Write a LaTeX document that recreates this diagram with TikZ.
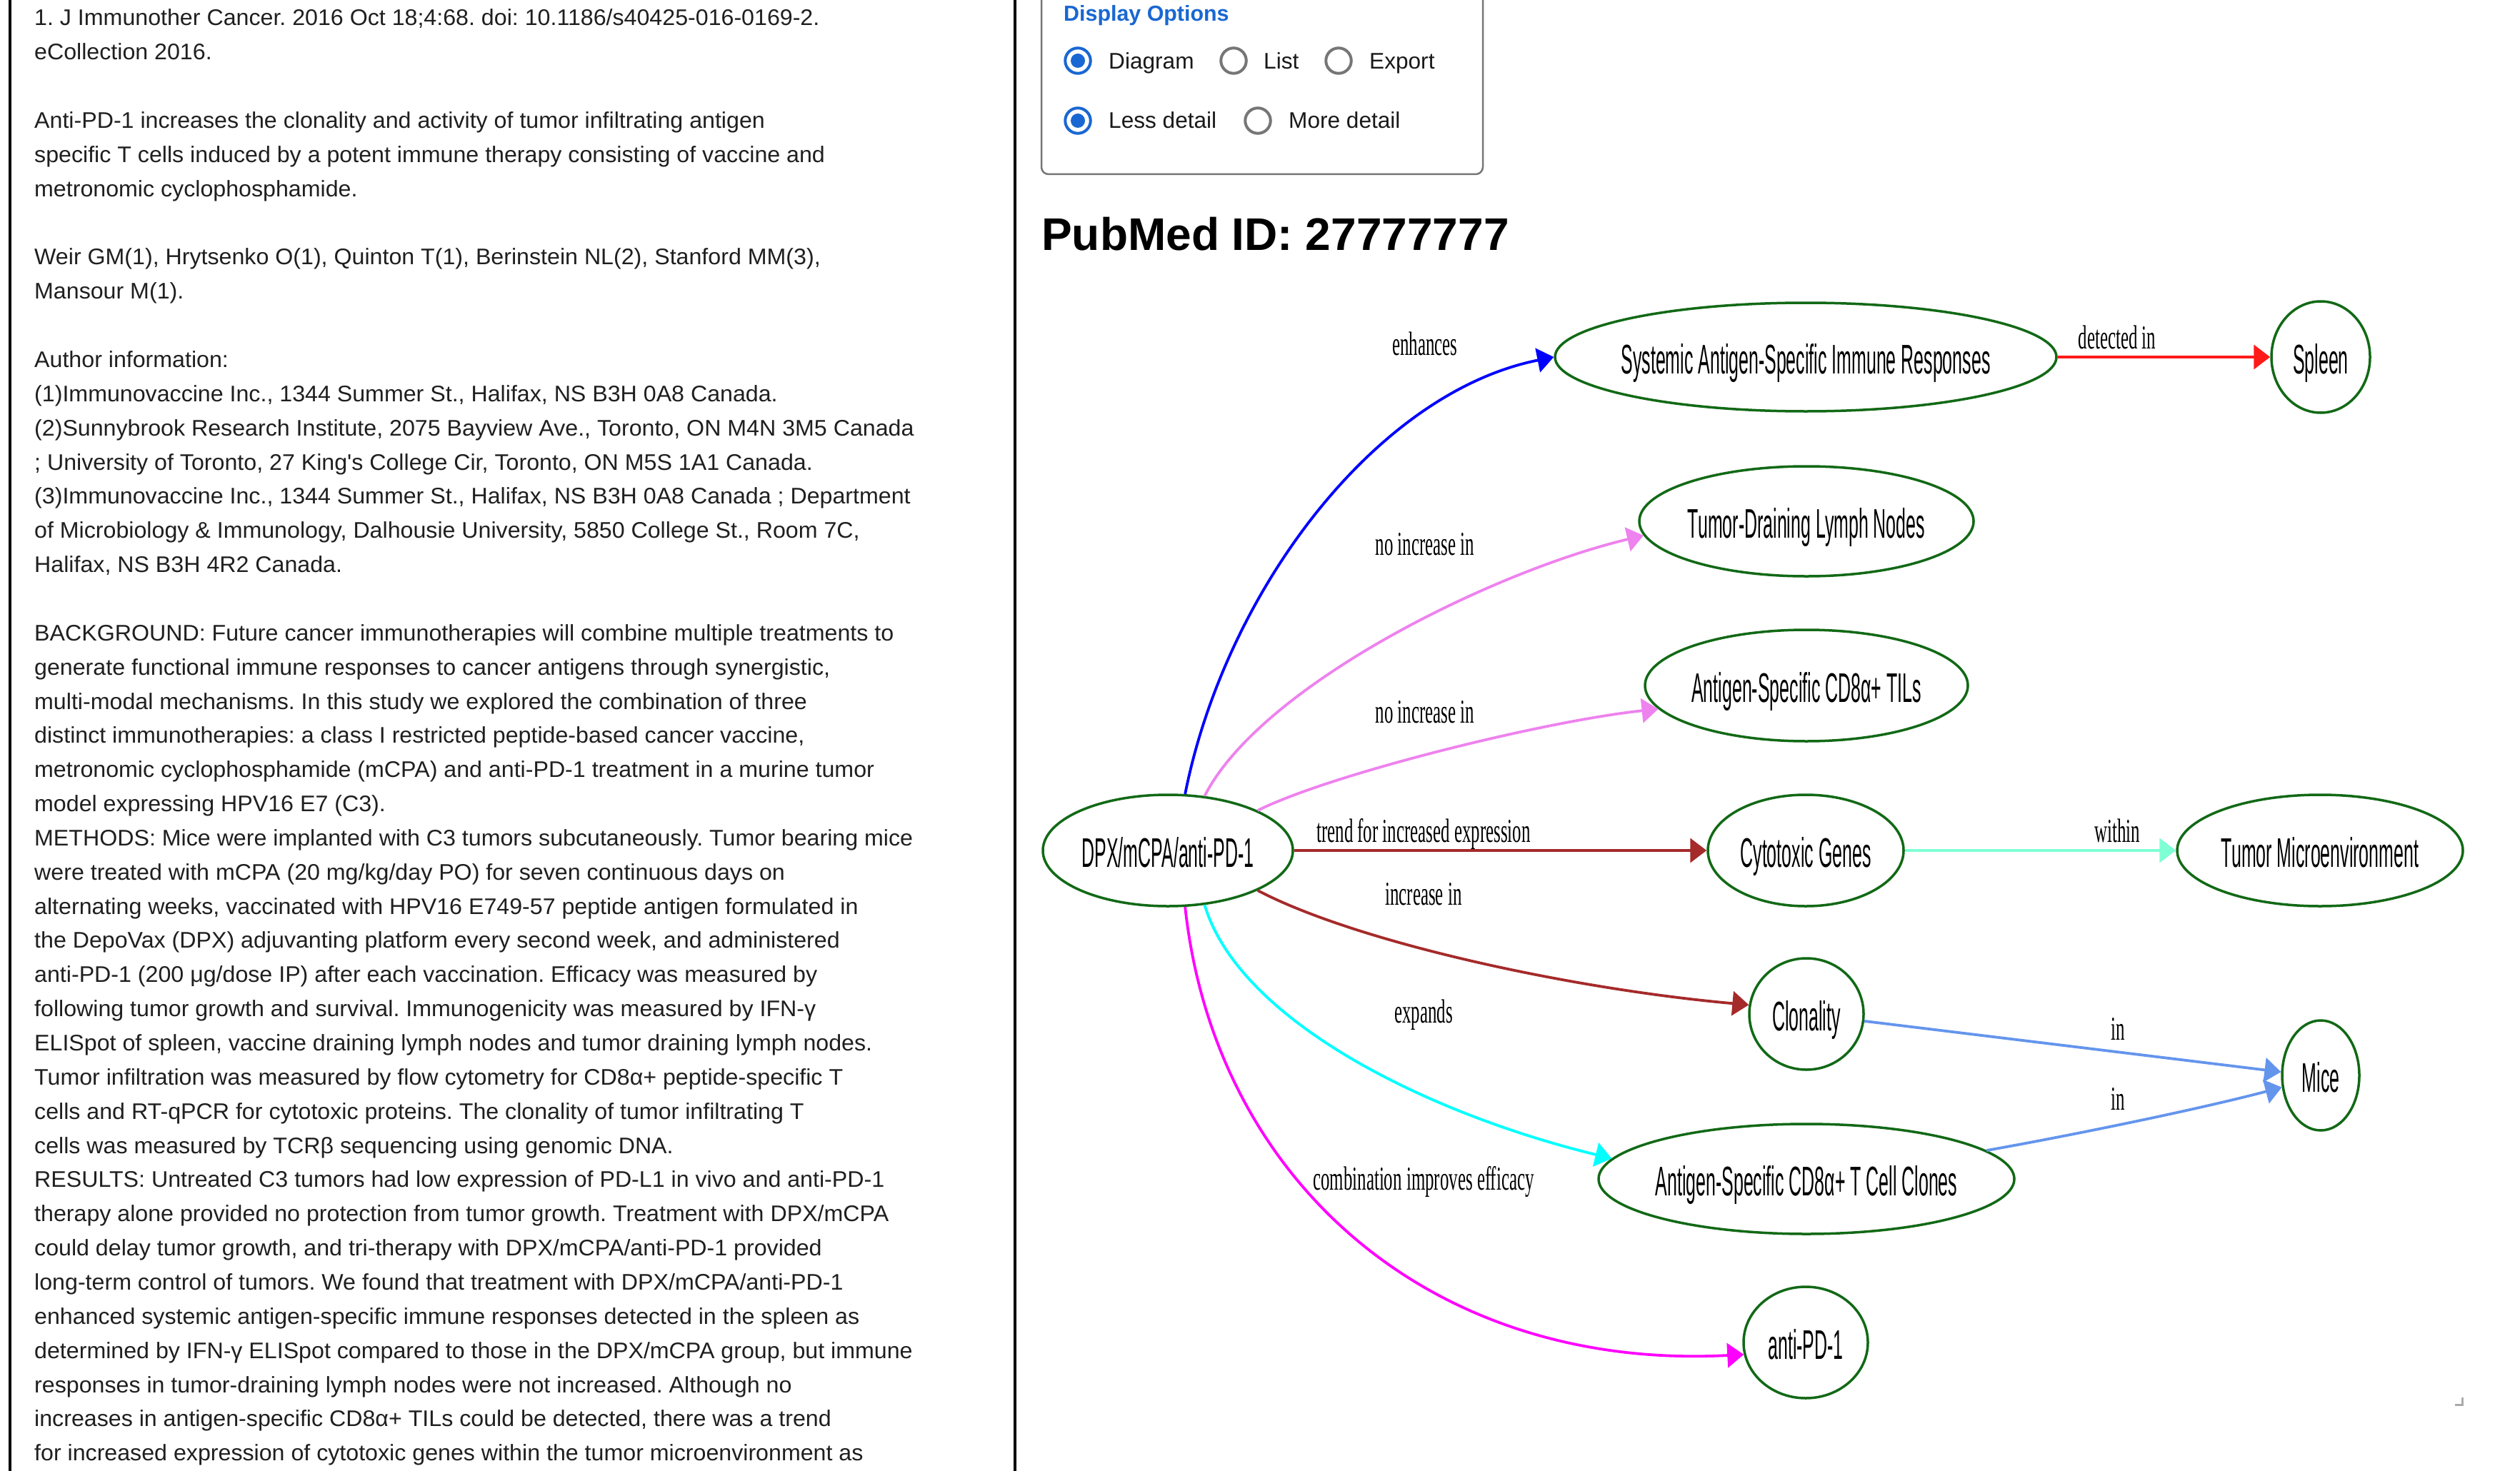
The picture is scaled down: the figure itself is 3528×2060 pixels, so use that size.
\documentclass[tikz,border=0pt]{standalone}
\usepackage{fontspec}
\setmainfont{Liberation Sans}
\newfontfamily\serifl{Liberation Serif}
\newfontfamily\bodyfont{Liberation Sans}[FakeStretch=1.018]
\usepackage{graphicx}
\usetikzlibrary{shapes.geometric,arrows.meta}
\definecolor{ngreen}{RGB}{18,105,22}
\definecolor{uiblue}{RGB}{25,103,210}
\definecolor{uigray}{RGB}{118,118,118}
\definecolor{eviolet}{HTML}{EE82EE}
\definecolor{ebrown}{HTML}{A52A2A}
\definecolor{ecyan}{HTML}{00FFFF}
\definecolor{emagenta}{HTML}{FF00FF}
\definecolor{eaqua}{HTML}{7FFFD4}
\definecolor{ecorn}{HTML}{6495ED}
\definecolor{ered}{HTML}{FF1A1A}
\definecolor{eblue}{HTML}{0000FF}
\newcommand\nodetext[1]{\makebox[0pt]{\scalebox{0.43}[1]{#1}}}
\newcommand\edgetext[1]{\scalebox{0.53}[1]{#1}}
\newcommand\bodyline[2]{\node[bodytext] (L#1) at (48,{36+47.85*#1}) {#2};}
\frenchspacing
\begin{document}
\begin{tikzpicture}[x=1pt,y=-1pt,
  bodytext/.style={anchor=base west, inner sep=0pt, font=\bodyfont\fontsize{31.6}{38}\selectfont\frenchspacing, text=black!88},
  uitext/.style={anchor=base west, inner sep=0pt, font=\fontsize{31.6}{38}\selectfont, text=black!90},
  radioon/.style={circle, draw=uiblue, line width=4pt, minimum size=35.5pt, inner sep=0pt},
  radiooff/.style={circle, draw=uigray, line width=4pt, minimum size=35.5pt, inner sep=0pt},
  ent/.style={ellipse, draw=ngreen, line width=3.5pt, inner sep=0pt, text height=46pt, text depth=0pt, font=\fontsize{58}{60}\selectfont, fill=white},
  rel/.style={line width=3.8pt, -{Triangle[length=23pt,width=34pt]}},
  elab/.style={anchor=base, inner sep=0pt, font=\serifl\fontsize{47}{50}\selectfont}
]
\useasboundingbox (0,0) rectangle (3528,2060);
\fill[white] (0,0) rectangle (3528,2060);

% panel borders
\draw[line width=3.6pt] (14,-5) -- (14,2065);
\draw[line width=3.6pt] (1421,-5) -- (1421,2065);

% left abstract text
\bodyline{0}{1. J Immunother Cancer. 2016 Oct 18;4:68. doi: 10.1186/s40425-016-0169-2.}
\bodyline{1}{eCollection 2016.}
\bodyline{3}{Anti-PD-1 increases the clonality and activity of tumor infiltrating antigen}
\bodyline{4}{specific T cells induced by a potent immune therapy consisting of vaccine and}
\bodyline{5}{metronomic cyclophosphamide.}
\bodyline{7}{Weir GM(1), Hrytsenko O(1), Quinton T(1), Berinstein NL(2), Stanford MM(3),}
\bodyline{8}{Mansour M(1).}
\bodyline{10}{Author information:}
\bodyline{11}{(1)Immunovaccine Inc., 1344 Summer St., Halifax, NS B3H 0A8 Canada.}
\bodyline{12}{(2)Sunnybrook Research Institute, 2075 Bayview Ave., Toronto, ON M4N 3M5 Canada}
\bodyline{13}{; University of Toronto, 27 King's College Cir, Toronto, ON M5S 1A1 Canada.}
\bodyline{14}{(3)Immunovaccine Inc., 1344 Summer St., Halifax, NS B3H 0A8 Canada ; Department}
\bodyline{15}{of Microbiology \& Immunology, Dalhousie University, 5850 College St., Room 7C,}
\bodyline{16}{Halifax, NS B3H 4R2 Canada.}
\bodyline{18}{BACKGROUND: Future cancer immunotherapies will combine multiple treatments to}
\bodyline{19}{generate functional immune responses to cancer antigens through synergistic,}
\bodyline{20}{multi-modal mechanisms. In this study we explored the combination of three}
\bodyline{21}{distinct immunotherapies: a class I restricted peptide-based cancer vaccine,}
\bodyline{22}{metronomic cyclophosphamide (mCPA) and anti-PD-1 treatment in a murine tumor}
\bodyline{23}{model expressing HPV16 E7 (C3).}
\bodyline{24}{METHODS: Mice were implanted with C3 tumors subcutaneously. Tumor bearing mice}
\bodyline{25}{were treated with mCPA (20 mg/kg/day PO) for seven continuous days on}
\bodyline{26}{alternating weeks, vaccinated with HPV16 E749-57 peptide antigen formulated in}
\bodyline{27}{the DepoVax (DPX) adjuvanting platform every second week, and administered}
\bodyline{28}{anti-PD-1 (200 μg/dose IP) after each vaccination. Efficacy was measured by}
\bodyline{29}{following tumor growth and survival. Immunogenicity was measured by IFN-γ}
\bodyline{30}{ELISpot of spleen, vaccine draining lymph nodes and tumor draining lymph nodes.}
\bodyline{31}{Tumor infiltration was measured by flow cytometry for CD8α+ peptide-specific T}
\bodyline{32}{cells and RT-qPCR for cytotoxic proteins. The clonality of tumor infiltrating T}
\bodyline{33}{cells was measured by TCRβ sequencing using genomic DNA.}
\bodyline{34}{RESULTS: Untreated C3 tumors had low expression of PD-L1 in vivo and anti-PD-1}
\bodyline{35}{therapy alone provided no protection from tumor growth. Treatment with DPX/mCPA}
\bodyline{36}{could delay tumor growth, and tri-therapy with DPX/mCPA/anti-PD-1 provided}
\bodyline{37}{long-term control of tumors. We found that treatment with DPX/mCPA/anti-PD-1}
\bodyline{38}{enhanced systemic antigen-specific immune responses detected in the spleen as}
\bodyline{39}{determined by IFN-γ ELISpot compared to those in the DPX/mCPA group, but immune}
\bodyline{40}{responses in tumor-draining lymph nodes were not increased. Although no}
\bodyline{41}{increases in antigen-specific CD8α+ TILs could be detected, there was a trend}
\bodyline{42}{for increased expression of cytotoxic genes within the tumor microenvironment as}

% display options panel
\draw[uigray, line width=2.5pt, rounded corners=10pt] (1458,-30) rectangle (2076,244);
\node[anchor=base west, inner sep=0pt, font=\bfseries\fontsize{30.4}{36}\selectfont, text=uiblue] (dopt) at (1489,30) {Display Options};
\node[radioon] (r1) at (1509,85) {};
\fill[uiblue] (r1.center) circle (10pt);
\node[uitext] (t1) at (1552,97) {Diagram};
\node[radiooff] (r2) at (1727,85) {};
\node[uitext] (t2) at (1769,97) {List};
\node[radiooff] (r3) at (1874,85) {};
\node[uitext] (t3) at (1917,97) {Export};
\node[radioon] (r4) at (1509,169) {};
\fill[uiblue] (r4.center) circle (10pt);
\node[uitext] (t4) at (1552,180) {Less detail};
\node[radiooff] (r5) at (1761,169) {};
\node[uitext] (t5) at (1804,180) {More detail};

\node[anchor=base west, inner sep=0pt, font=\bfseries\fontsize{64}{70}\selectfont] (pm) at (1458,350) {PubMed ID: 27777777};

% graph nodes
\node[ent, minimum width=350pt, minimum height=156pt] (dpx) at (1635,1191) {\nodetext{DPX/mCPA/anti-PD-1}};
\node[ent, minimum width=702pt, minimum height=152pt] (sys) at (2528,500) {\nodetext{Systemic Antigen-Specific Immune Responses}};
\node[ent, minimum width=138pt, minimum height=156pt] (spl) at (3249,500) {\nodetext{Spleen}};
\node[ent, minimum width=468pt, minimum height=154pt] (tdln) at (2529,730) {\nodetext{Tumor-Draining Lymph Nodes}};
\node[ent, minimum width=452pt, minimum height=156pt] (tils) at (2529,960) {\nodetext{Antigen-Specific CD8α+ TILs}};
\node[ent, minimum width=274pt, minimum height=156pt] (cyt) at (2528,1191) {\nodetext{Cytotoxic Genes}};
\node[ent, minimum width=400pt, minimum height=156pt] (tme) at (3248,1191) {\nodetext{Tumor Microenvironment}};
\node[ent, minimum width=160pt, minimum height=156pt] (clon) at (2529,1420) {\nodetext{Clonality}};
\node[ent, minimum width=108pt, minimum height=154pt] (mice) at (3249,1506) {\nodetext{Mice}};
\node[ent, minimum width=582pt, minimum height=154pt] (clones) at (2529,1651) {\nodetext{Antigen-Specific CD8α+ T Cell Clones}};
\node[ent, minimum width=174pt, minimum height=156pt] (apd) at (2528,1880) {\nodetext{anti-PD-1}};

% edges
\draw[rel, eblue] (dpx.73) .. controls (1715,830) and (1925,550) .. (sys.west);
\draw[rel, ered] (sys.east) -- (spl.west);
\draw[rel, eviolet] (dpx.56) .. controls (1765,960) and (2090,800) .. (tdln.185);
\draw[rel, eviolet] (dpx.24) .. controls (1860,1085) and (2160,1010) .. (tils.189);
\draw[rel, ebrown] (dpx.east) -- (cyt.west);
\draw[rel, eaqua] (cyt.east) -- (tme.west);
\draw[rel, ebrown] (dpx.-24) .. controls (1900,1320) and (2200,1385) .. (clon.171);
\draw[rel, ecorn] (clon.-7) -- (mice.175);
\draw[rel, ecyan] (dpx.-56) .. controls (1735,1430) and (2000,1560) .. (clones.174);
\draw[rel, ecorn] (clones.9) .. controls (2900,1590) and (3080,1553) .. (mice.197);
\draw[rel, emagenta] (dpx.-73) .. controls (1700,1650) and (2000,1920) .. (apd.191);

% edge labels
\node[elab] (l1) at (1995,497) {\edgetext{enhances}};
\node[elab] (l2) at (2964,488) {\edgetext{detected in}};
\node[elab] (l3) at (1995,777) {\edgetext{no increase in}};
\node[elab] (l4) at (1995,1012) {\edgetext{no increase in}};
\node[elab] (l5) at (1993,1179) {\edgetext{trend for increased expression}};
\node[elab] (l6) at (2964,1179) {\edgetext{within}};
\node[elab] (l7) at (1993,1267) {\edgetext{increase in}};
\node[elab] (l8) at (1993,1432) {\edgetext{expands}};
\node[elab] (l9) at (2965,1456) {\edgetext{in}};
\node[elab] (l10) at (2965,1554) {\edgetext{in}};
\node[elab] (l11) at (1993,1666) {\edgetext{combination improves efficacy}};

% resize handle
\draw[black!33, line width=3pt] (3437,1967.5) -- (3447.5,1967.5) -- (3447.5,1957);
\end{tikzpicture}
\end{document}
